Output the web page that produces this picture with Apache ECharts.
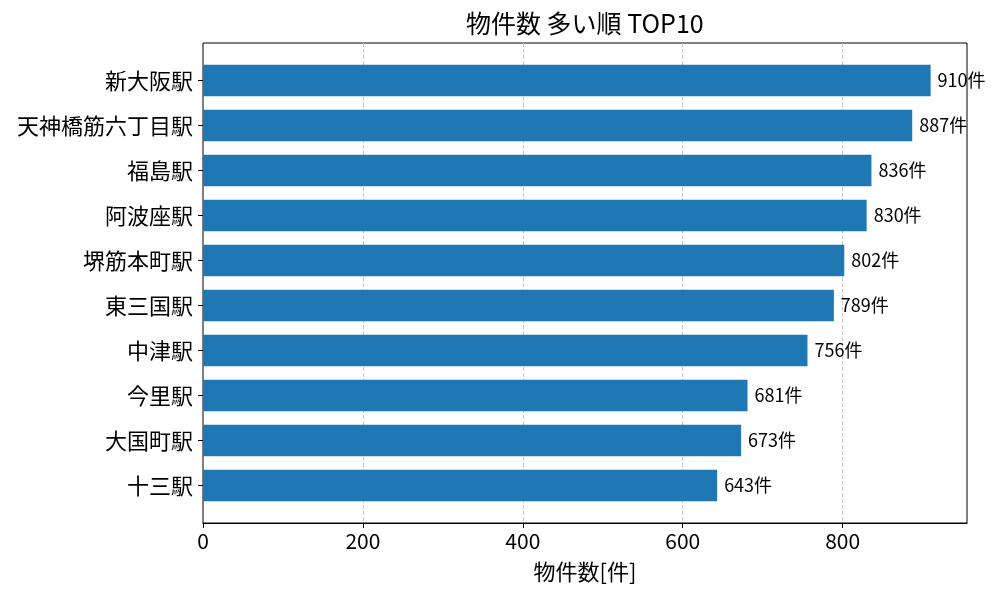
<!DOCTYPE html>
<html><head><meta charset="utf-8">
<script src="https://cdn.jsdelivr.net/npm/echarts@6/dist/echarts.min.js"></script>
<style>html,body{margin:0;padding:0;background:#fff}#c{width:1000px;height:600px}</style>
</head><body><div id="c"></div>
<script>
const stations = ['新大阪駅','天神橋筋六丁目駅','福島駅','阿波座駅','堺筋本町駅','東三国駅','中津駅','今里駅','大国町駅','十三駅'];
const counts = [910, 887, 836, 830, 802, 789, 756, 681, 673, 643];
const FONT = '"Noto Sans CJK JP", "Noto Sans", sans-serif';
const chart = echarts.init(document.getElementById('c'));
chart.setOption({
  animation: false,
  textStyle: {fontFamily: FONT},
  title: {text: '物件数 多い順 TOP10', left: 466, top: 11, padding: 0,
    textStyle: {fontFamily: FONT, fontSize: 25, fontWeight: 'normal', color: '#000'}},
  grid: [
    {left: 203, right: 33, top: 58, bottom: 92, containLabel: false},
    {left: 203, right: 33, top: 43, bottom: 77, show: true, borderColor: '#000', borderWidth: 1, containLabel: false}
  ],
  xAxis: [
    {gridIndex: 0, type: 'value', min: 0, max: 955.5, show: false, splitLine: {show: false}},
    {gridIndex: 1, type: 'value', min: 0, max: 955.5, interval: 200,
      name: '物件数[件]', nameLocation: 'middle', nameGap: 38,
      nameTextStyle: {fontFamily: FONT, fontSize: 22, color: '#000'},
      axisLine: {show: true, lineStyle: {color: '#000'}},
      axisTick: {show: true, length: 5, lineStyle: {color: '#000'}},
      axisLabel: {fontFamily: FONT, fontSize: 21, color: '#000', margin: 8, showMaxLabel: false},
      splitLine: {show: true, showMinLine: false, showMaxLine: false, lineStyle: {color: '#c8c8c8', type: 'dashed', width: 1}}
    }
  ],
  yAxis: [
    {gridIndex: 0, type: 'category', inverse: true, data: stations,
      axisLine: {show: false},
      axisTick: {show: true, length: 5, alignWithLabel: true, lineStyle: {color: '#000'}},
      axisLabel: {fontFamily: FONT, fontSize: 22, color: '#000', margin: 10},
      splitLine: {show: false}
    },
    {gridIndex: 1, type: 'value', min: 0, max: 1, show: false, splitLine: {show: false}}
  ],
  series: [{type: 'bar', xAxisIndex: 0, yAxisIndex: 0, barWidth: '70%',
    data: counts,
    itemStyle: {color: '#1f77b4'},
    label: {show: true, position: 'right', distance: 7, fontFamily: FONT, fontSize: 18, color: '#000',
      formatter: p => p.value + '件'}
  }]
});
</script></body></html>
